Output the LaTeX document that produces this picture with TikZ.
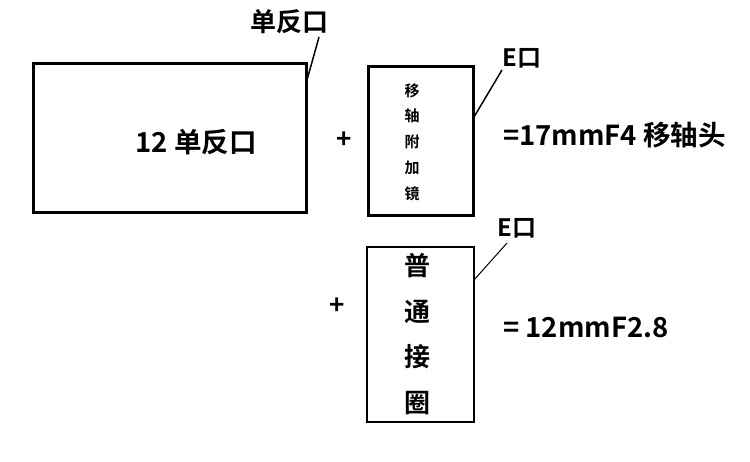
\documentclass[tikz,border=0pt]{standalone}
\usepackage{fontspec}
\setmainfont{Noto Sans CJK SC}[BoldFont={* Bold}]
\newfontfamily\cjkb{Noto Sans CJK SC Bold}
\tikzset{
  thickbox/.style={draw, line width=3pt, inner sep=0pt},
  thinbox/.style={draw, line width=1.5pt, inner sep=0pt},
  leader/.style={line width=1.5pt},
  lbl/.style={font=\cjkb\fontsize{26}{28}\selectfont, inner sep=0pt},
  elbl/.style={font=\cjkb\fontsize{24}{26}\selectfont, inner sep=0pt},
  big/.style={font=\cjkb\fontsize{27.5}{30}\selectfont, inner sep=0pt},
  plus/.style={font=\cjkb\fontsize{26}{28}\selectfont, inner sep=0pt},
}
\begin{document}
\begin{tikzpicture}[x=1pt,y=-1pt]
\useasboundingbox (0,0) rectangle (750,462);
% box 1
\node[thickbox, minimum width=273pt, minimum height=149pt] (b1) at (169.5,138.5) {};
\node[big] (t1) at (196,142) {12 单反口};
\node[lbl] (l1) at (289,22) {单反口};
\coordinate (l1a) at (319,37);
\coordinate (l1b) at (307,80);
\draw[leader] (l1a) -- (l1b);
% plus 1
\node[plus] (p1) at (344,140) {+};
% box 2
\node[thickbox, minimum width=105pt, minimum height=149pt] (b2) at (420.5,141.5) {};
\node[font=\cjkb\fontsize{15}{25.7}\selectfont, align=center, inner sep=0pt] (t2) at (412,142) {移\\轴\\附\\加\\镜};
\node[elbl] (l2) at (522,58) {E口};
\coordinate (l2a) at (502,70);
\coordinate (l2b) at (474,117);
\draw[leader] (l2a) -- (l2b);
\node[big, anchor=west] (r1) at (503,135) {=17mmF4 移轴头};
% box 3
\node[thinbox, minimum width=107pt, minimum height=175pt] (b3) at (420.5,334.5) {};
\node[font=\cjkb\fontsize{26}{45.6}\selectfont, align=center, inner sep=0pt] (t3) at (417,334) {普\\通\\接\\圈};
\node[elbl] (l3) at (517,228) {E口};
\coordinate (l3a) at (507,243);
\coordinate (l3b) at (474,280);
\draw[line width=1pt] (l3a) -- (l3b);
\node[plus] (p2) at (337,306) {+};
\node[big, anchor=west] (r2) at (503,328) {= 12mmF2.8};
\end{tikzpicture}
\end{document}
